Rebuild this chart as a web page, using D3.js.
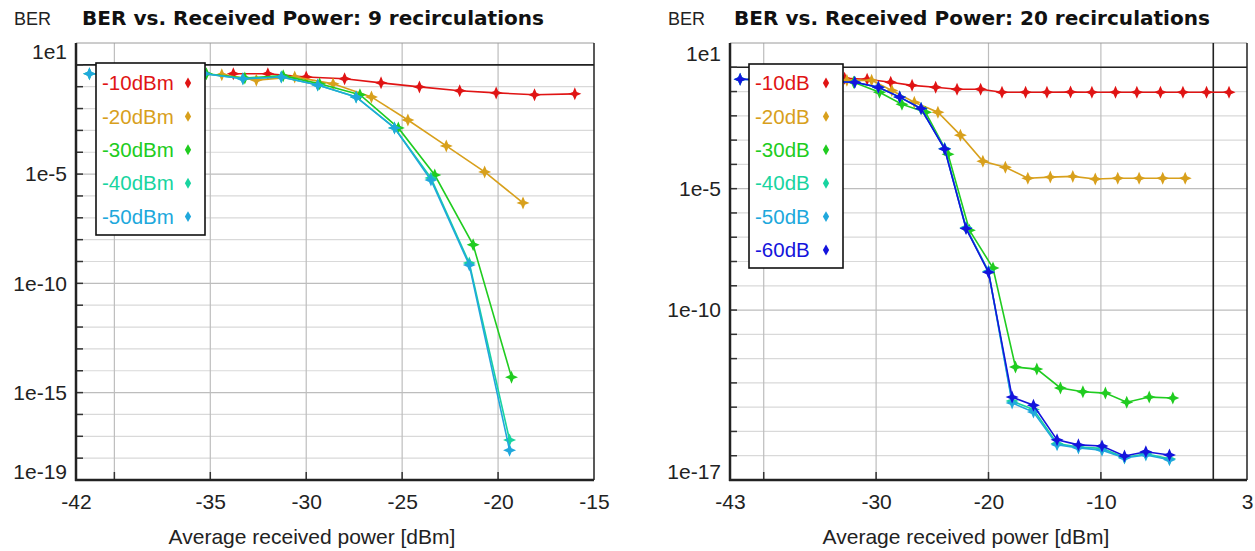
<!DOCTYPE html>
<html><head><meta charset="utf-8">
<script src="https://cdn.jsdelivr.net/npm/d3@7"></script>
<style>body{margin:0;background:#fff}svg{display:block}</style>
</head><body>
<script>
// ---------- DATA: left chart (9 recirculations) ----------
const leftTitle = "BER vs. Received Power: 9 recirculations";
const leftSeriesNames = ["-10dBm","-20dBm","-30dBm","-40dBm","-50dBm"];
const leftXTicks = [-42,-40,-35,-30,-25,-20,-15];
const leftXTickLabels = ["-42","","-35","-30","-25","-20","-15"];
const leftYTicks = [1e1,1e-5,1e-10,1e-15,1e-19];
const leftYTickLabels = ["1e1","1e-5","1e-10","1e-15","1e-19"];

const L10_X = [-33.8,-32,-30,-28,-26.1,-24.1,-22,-20.1,-18.1,-16];
const L10_BER = [3.9e-1,3.9e-1,2.8e-1,2.3e-1,1.5e-1,9.8e-2,6.5e-2,5.2e-2,4.3e-2,4.7e-2];
const L20_X = [-34.4,-32.6,-30.6,-28.6,-26.6,-24.7,-22.7,-20.7,-18.7];
const L20_BER = [3.5e-1,2.0e-1,2.8e-1,1.35e-1,3.4e-2,3.0e-3,1.95e-4,1.26e-5,4.8e-7];
const L30_X = [-35.2,-33.2,-31.2,-29.3,-27.2,-25.2,-23.3,-21.3,-19.3];
const L30_BER = [3.9e-1,2.5e-1,3.2e-1,1.35e-1,4.3e-2,1.3e-3,9.1e-6,5.8e-9,5.1e-15];
const L40_X = [-41.3,-35.3,-33.3,-31.3,-29.4,-27.4,-25.4,-23.5,-21.5,-19.4];
const L40_BER = [3.9e-1,3.9e-1,2.3e-1,2.8e-1,1.2e-1,3.4e-2,1.3e-3,6.7e-6,8.5e-10,6.8e-18];
const L50_X = [-41.3,-35.3,-33.3,-31.3,-29.4,-27.4,-25.4,-23.5,-21.5,-19.4];
const L50_BER = [3.9e-1,3.9e-1,2.3e-1,2.8e-1,1.2e-1,3.4e-2,1.3e-3,5.4e-6,6.9e-10,2.3e-18];

// ---------- DATA: right chart (20 recirculations) ----------
const rightTitle = "BER vs. Received Power: 20 recirculations";
const rightSeriesNames = ["-10dB","-20dB","-30dB","-40dB","-50dB","-60dB"];
const rightXTicks = [-43,-40,-30,-20,-10,3];
const rightXTickLabels = ["-43","","-30","-20","-10","3"];
const rightYTicks = [1e1,1e-5,1e-10,1e-17];
const rightYTickLabels = ["1e1","1e-5","1e-10","1e-17"];

const R10_X = [-32.8,-30.8,-28.7,-26.8,-24.7,-22.8,-20.7,-18.8,-16.7,-14.8,-12.7,-10.8,-8.7,-6.8,-4.7,-2.7,-0.6,1.4];
const R10_BER = [3.5e-1,3.2e-1,2.4e-1,1.8e-1,1.5e-1,1.25e-1,1.25e-1,9.4e-2,9.4e-2,9.3e-2,9.6e-2,9.3e-2,9.4e-2,9.3e-2,9.4e-2,9.3e-2,9.4e-2,9.3e-2];
const R20_X = [-32.6,-30.4,-28.6,-26.6,-24.5,-22.5,-20.5,-18.5,-16.5,-14.5,-12.5,-10.5,-8.5,-6.6,-4.5,-2.5];
const R20_BER = [2.9e-1,2.9e-1,1.1e-1,3.6e-2,1.4e-2,1.6e-3,1.35e-4,7.6e-5,2.7e-5,3.0e-5,3.2e-5,2.5e-5,2.7e-5,2.7e-5,2.7e-5,2.7e-5];
const R30_X = [-32.0,-29.7,-27.7,-25.6,-23.6,-21.7,-19.6,-17.6,-15.7,-13.6,-11.6,-9.6,-7.7,-5.7,-3.6];
const R30_BER = [2.4e-1,9.3e-2,3.0e-2,1.4e-2,2.6e-4,1.95e-7,5.4e-9,4.5e-13,3.7e-13,6.2e-14,4.3e-14,3.8e-14,1.6e-14,2.6e-14,2.4e-14];
const R40_X = [-42.1,-31.9,-29.8,-27.9,-26.0,-23.9,-22.0,-20.0,-17.9,-16.0,-13.9,-12.0,-9.9,-7.9,-6.0,-3.9];
const R40_BER = [3.2e-1,2.4e-1,1.5e-1,5.9e-2,2.0e-2,4.5e-4,2.5e-7,4.0e-9,1.8e-14,8.0e-15,3.2e-16,2.3e-16,2.0e-16,8.5e-17,1.2e-16,7.5e-17];
const R50_X = [-42.1,-31.9,-29.8,-27.9,-26.0,-23.9,-22.0,-20.0,-17.9,-16.0,-13.9,-12.0,-9.9,-7.9,-6.0,-3.9];
const R50_BER = [3.2e-1,2.4e-1,1.5e-1,5.9e-2,2.0e-2,4.4e-4,2.4e-7,3.8e-9,1.5e-14,6.3e-15,2.8e-16,2.1e-16,1.7e-16,8.1e-17,1.07e-16,6.8e-17];
const R60_X = [-42.1,-31.9,-29.8,-27.9,-26.0,-23.9,-22.0,-20.0,-17.9,-16.0,-13.9,-12.0,-9.9,-7.9,-6.0,-3.9];
const R60_BER = [3.2e-1,2.4e-1,1.5e-1,5.9e-2,2.0e-2,4.3e-4,2.3e-7,3.6e-9,2.6e-14,1.2e-14,4.5e-16,2.8e-16,2.5e-16,9.8e-17,1.45e-16,1.07e-16];

const colors = ["#e01414","#d8a01c","#20cc20","#18d4a0","#20a8dc","#1414dc"];

// ---------- DRAWING ----------
const svg = d3.select("body").append("svg").attr("width",1255).attr("height",551);
const FONT = "'Liberation Sans', Arial, sans-serif";

const star4 = { draw(ctx, size){ const r = Math.sqrt(size)*0.62, w = r*0.3;
  ctx.moveTo(0,-r); ctx.lineTo(w,-w); ctx.lineTo(r,0); ctx.lineTo(w,w);
  ctx.lineTo(0,r); ctx.lineTo(-w,w); ctx.lineTo(-r,0); ctx.lineTo(-w,-w); ctx.closePath(); } };

function drawChart(c){
  const g = svg.append("g");
  const x = d3.scaleLinear().domain(c.xDomain).range([c.left, c.right]);
  const y = d3.scaleLog().domain(c.yDomain).range([c.bottom, c.top]);
  const eLo = Math.round(Math.log10(c.yDomain[0])), eHi = Math.round(Math.log10(c.yDomain[1]));
  const decades = d3.range(eLo, eHi+1).map(e => +("1e"+e));
  const labeled = new Set(c.yTicks.map(v => Math.round(Math.log10(v))));
  const inner = decades.filter(d => d < c.yDomain[1] && d > c.yDomain[0]);

  g.selectAll(".hg").data(inner).join("line")
    .attr("x1", c.left).attr("x2", c.right).attr("y1", d => y(d)).attr("y2", d => y(d))
    .attr("stroke", d => labeled.has(Math.round(Math.log10(d))) ? "#bdbdbd" : "#d9d9d9").attr("stroke-width",1.2);
  g.selectAll(".vg").data(c.xTicks.filter(v => v > c.xDomain[0] && v < c.xDomain[1])).join("line")
    .attr("x1", d => x(d)).attr("x2", d => x(d)).attr("y1", c.top).attr("y2", c.bottom)
    .attr("stroke", "#bdbdbd").attr("stroke-width",1.2);
  g.append("line").attr("x1",c.left).attr("x2",c.right).attr("y1",c.top).attr("y2",c.top).attr("stroke","#9a9a9a").attr("stroke-width",1);
  g.append("line").attr("x1",c.right).attr("x2",c.right).attr("y1",c.top).attr("y2",c.bottom).attr("stroke","#222").attr("stroke-width",1.5);
  g.append("line").attr("x1",c.left).attr("x2",c.right).attr("y1",y(1)).attr("y2",y(1)).attr("stroke","#222").attr("stroke-width",1.6);
  if (c.xRef !== undefined) g.append("line").attr("x1",x(c.xRef)).attr("x2",x(c.xRef)).attr("y1",c.top).attr("y2",c.bottom).attr("stroke","#222").attr("stroke-width",1.6);

  g.selectAll(".yt").data(inner).join("line")
    .attr("x1", c.left).attr("x2", c.left+7).attr("y1", d => y(d)).attr("y2", d => y(d)).attr("stroke","#333").attr("stroke-width",1.5);
  g.selectAll(".xt").data(c.xTicks.filter(v => v > c.xDomain[0] && v < c.xDomain[1])).join("line")
    .attr("x1", d => x(d)).attr("x2", d => x(d)).attr("y1", c.bottom).attr("y2", c.bottom-8).attr("stroke","#333").attr("stroke-width",1.5);

  const ya = g.append("g").attr("transform",`translate(${c.left},0)`)
    .call(d3.axisLeft(y).tickValues(c.yTicks).tickFormat((d,i) => c.yTickLabels[i]).tickSize(0).tickPadding(9));
  ya.select(".domain").remove();
  ya.selectAll("text").attr("font-family",FONT).attr("font-size",21).attr("fill","#222")
    .attr("dy", (d,i) => i === 0 ? c.topLabelDy : (i === c.yTicks.length-1 ? "-0.05em" : "0.32em"));
  const xa = g.append("g").attr("transform",`translate(0,${c.bottom})`)
    .call(d3.axisBottom(x).tickValues(c.xTicks).tickFormat((d,i) => c.xTickLabels[i]).tickSize(0).tickPadding(14));
  xa.select(".domain").remove();
  xa.selectAll("text").attr("font-family",FONT).attr("font-size",21).attr("fill","#222");

  g.append("line").attr("x1",c.left).attr("x2",c.left).attr("y1",c.top).attr("y2",c.bottom+1).attr("stroke","#222").attr("stroke-width",2.5);
  g.append("line").attr("x1",c.left-1).attr("x2",c.right).attr("y1",c.bottom).attr("y2",c.bottom).attr("stroke","#222").attr("stroke-width",2.5);

  const line = d3.line().x(d => x(d[0])).y(d => y(d[1]));
  c.series.forEach((s) => {
    const pts = s.x.map((v, k) => [v, s.y[k]]);
    g.append("path").datum(pts).attr("d", line).attr("fill","none").attr("stroke", s.color).attr("stroke-width",1.6);
    g.selectAll(null).data(pts).join("path")
      .attr("transform", d => `translate(${x(d[0])},${y(d[1])})`)
      .attr("d", d3.symbol(star4, 110)).attr("fill", s.color);
  });

  const lg = g.append("g");
  lg.append("rect").attr("x", c.legend.x).attr("y", c.legend.y).attr("width", c.legend.w).attr("height", c.legend.h)
    .attr("fill","#fff").attr("stroke","#111").attr("stroke-width",1.6);
  c.series.forEach((s, i) => {
    const cy = c.legend.y + c.legend.row0 + i*c.legend.step;
    lg.append("text").attr("x", c.legend.x + 6).attr("y", cy).attr("dy","0.35em")
      .attr("font-family",FONT).attr("font-size",20.5).attr("fill", s.color).text(s.name);
    lg.append("path").attr("transform",`translate(${c.legend.mx},${cy})`)
      .attr("d", d3.symbol(d3.symbolDiamond, 34)).attr("fill", s.color);
  });

  g.append("text").attr("x", c.berX).attr("y", 25).attr("font-family",FONT).attr("font-size",18).attr("fill","#222").text("BER");
  g.append("text").attr("x", c.titleX).attr("y", 25).attr("font-family","'DejaVu Sans', sans-serif").attr("font-weight","bold")
    .attr("font-size",19.5).attr("fill","#111").attr("textLength", c.titleW).attr("lengthAdjust","spacingAndGlyphs").text(c.title);
  g.append("text").attr("x", c.axisTitleX).attr("y", 544).attr("text-anchor","middle")
    .attr("font-family",FONT).attr("font-size",21).attr("fill","#222").text("Average received power [dBm]");
}

drawChart({
  left:76, right:594, top:43, bottom:480,
  xDomain:[-42,-15], yDomain:[1e-19,1e1],
  xTicks:leftXTicks, xTickLabels:leftXTickLabels, yTicks:leftYTicks, yTickLabels:leftYTickLabels,
  topLabelDy:"0.75em",
  series:leftSeriesNames.map((n,i) => ({name:n, color:colors[i],
    x:[L10_X,L20_X,L30_X,L40_X,L50_X][i], y:[L10_BER,L20_BER,L30_BER,L40_BER,L50_BER][i]})),
  legend:{x:96, y:63, w:109, h:172, row0:20, step:33.4, mx:188},
  berX:14, titleX:82, titleW:462, title:leftTitle, axisTitleX:312
});
drawChart({
  left:730, right:1247, top:43, bottom:480,
  xDomain:[-43,3], yDomain:[1e-17,1e1], xRef:0,
  xTicks:rightXTicks, xTickLabels:rightXTickLabels, yTicks:rightYTicks, yTickLabels:rightYTickLabels,
  topLabelDy:"0.85em",
  series:rightSeriesNames.map((n,i) => ({name:n, color:colors[i],
    x:[R10_X,R20_X,R30_X,R40_X,R50_X,R60_X][i], y:[R10_BER,R20_BER,R30_BER,R40_BER,R50_BER,R60_BER][i]})),
  legend:{x:749, y:64, w:94, h:204, row0:19, step:33.4, mx:826},
  berX:668, titleX:734, titleW:476, title:rightTitle, axisTitleX:966
});
</script>
</body></html>
